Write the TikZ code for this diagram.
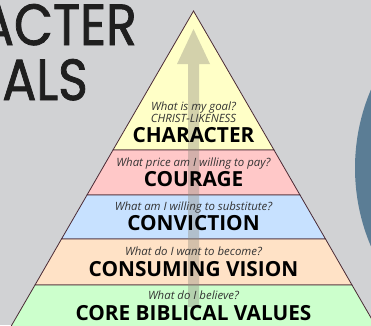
\documentclass[tikz,border=0pt]{standalone}
\usepackage{fontspec}
\setmainfont{Open Sans}
\newfontfamily\headfont{Poppins}[FakeBold=1.5]
\usetikzlibrary{positioning}
\definecolor{bgray}{HTML}{D1D2D4}
\definecolor{edge}{HTML}{4A2A35}
\definecolor{ychar}{HTML}{FFFFC7}
\definecolor{pcour}{HTML}{FFC8C8}
\definecolor{bconv}{HTML}{C7E1FF}
\definecolor{ovis}{HTML}{FFE2C6}
\definecolor{gcore}{HTML}{CCFFCC}
\definecolor{disc}{HTML}{5B7D95}
\tikzstyle{band} = [draw=edge, line width=0.8pt]
\tikzstyle{question} = [anchor=base, inner sep=0pt, text=black!80,
    font=\itshape\fontsize{11.4}{13}\selectfont]
\tikzstyle{level} = [anchor=base, inner sep=0pt, text=black,
    font=\bfseries\fontsize{20.8}{22}\selectfont]
\tikzstyle{big} = [anchor=base east, inner sep=0pt, text=black!88,
    font=\headfont\fontsize{58}{60}\selectfont]

\begin{document}
\begin{tikzpicture}[x=1pt,y=-1pt]
  \useasboundingbox (0,0) rectangle (371,325);
  \clip (0,0) rectangle (371,325);
  \fill[bgray] (0,0) rectangle (371,325);
  \fill[disc] (555,168) circle (200);

  % title, cut at the left border
  \node[big] (title1) at (137,45) {\scalebox{0.87}[1]{ACTER}};
  \node[big] (title2) at (88,100) {\scalebox{0.87}[1]{ALS}};

  % pyramid bands
  \path[band, fill=ychar] (193.5,11) -- (274,150) -- (113,150) -- cycle;
  \path[band, fill=pcour] (113,150) -- (274,150) -- (300,195) -- (87,195) -- cycle;
  \path[band, fill=bconv] (87,195) -- (300,195) -- (325.5,239) -- (61.5,239) -- cycle;
  \path[band, fill=ovis] (61.5,239) -- (325.5,239) -- (352,285) -- (35,285) -- cycle;
  \path[band, fill=gcore] (35,285) -- (352,285) -- (381,335) -- (6,335) -- cycle;

  % growth arrow
  \fill[gray!90!olive, opacity=0.4] (188,307) -- (188,64) -- (177,64) -- (193.5,29)
    -- (210,64) -- (199,64) -- (199,307) -- cycle;

  \node[question] (qchar) at (193.5,110) {What is my goal?};
  \node[question] (qlike) at (193.5,122) {CHRIST-LIKENESS};
  \node[level] (tchar) at (193.5,142.5) {CHARACTER};

  \node[question] (qcour) at (193.5,166) {What price am I willing to pay?};
  \node[level] (tcour) at (193.5,186) {COURAGE};

  \node[question] (qconv) at (193.5,210.5) {What am I willing to substitute?};
  \node[level] (tconv) at (193.5,230.5) {CONVICTION};

  \node[question] (qvis) at (193.5,255) {What do I want to become?};
  \node[level] (tvis) at (193.5,276) {CONSUMING VISION};

  \node[question] (qcore) at (193.5,299.5) {What do I believe?};
  \node[level] (tcore) at (193.5,320) {CORE BIBLICAL VALUES};
\end{tikzpicture}
\end{document}
